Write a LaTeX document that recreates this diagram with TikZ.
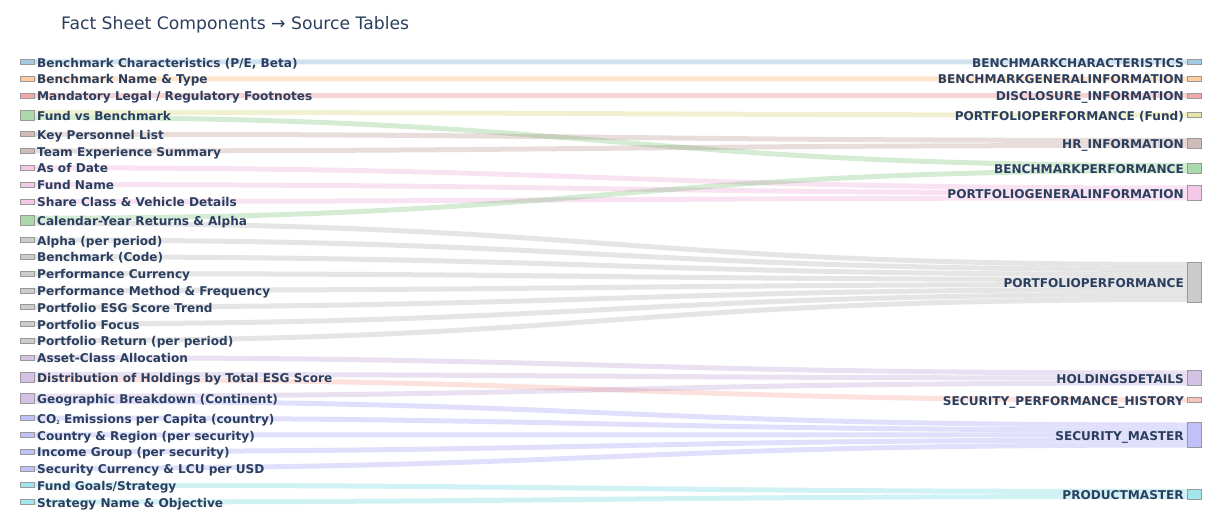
\documentclass[tikz,border=0pt]{standalone}
\usepackage{fontspec}
\setmainfont{DejaVu Sans}
\usepackage{tikz}
\usetikzlibrary{positioning,backgrounds}
\definecolor{ink}{HTML}{2A3F5F}
\definecolor{cblue}{HTML}{1F77B4}
\definecolor{corange}{HTML}{FF7F0E}
\definecolor{cred}{HTML}{D62728}
\definecolor{colive}{HTML}{BCBD22}
\definecolor{cbrown}{HTML}{8C564B}
\definecolor{cgreen}{HTML}{2CA02C}
\definecolor{cpink}{HTML}{E377C2}
\definecolor{cgrey}{HTML}{7F7F7F}
\definecolor{cpurple}{HTML}{9467BD}
\definecolor{ctomato}{HTML}{F26A50}
\definecolor{cindigo}{HTML}{6464F0}
\definecolor{ccyan}{HTML}{17BECF}
% ribbon: colour, source, source slot, target, target slot
\newcommand{\ribbon}[5]{%
  \path (#2.north east) ++(0,-#3*5) coordinate (ra) ++(0,-5) coordinate (rb)
        (#4.north west) ++(0,-#5*5) coordinate (rc) ++(0,-5) coordinate (rd);
  \fill[flow,#1] (ra) .. controls (mid |- ra) and (mid |- rc) .. (rc) -- (rd)
    .. controls (mid |- rd) and (mid |- rb) .. (rb) -- cycle;}

\begin{document}
\begin{tikzpicture}[x=1pt,y=1pt,node distance=11.8pt,
  bar/.style={rectangle,minimum width=14pt,minimum height=5pt,inner sep=0pt,outer sep=0pt,draw=black!40,line width=0.5pt},
  lab/.style={font=\bfseries\fontsize{12.1}{14}\selectfont,text=ink,inner sep=0pt,text height=8.8pt,text depth=0pt,yshift=-0.8pt},
  flow/.style={fill opacity=0.2}]
\useasboundingbox (0,0) rectangle (1220,525);
\node[anchor=base west,font=\fontsize{17.2}{20}\selectfont,text=ink,inner sep=0pt] (title) at (61,495) {Fact Sheet Components → Source Tables};
\coordinate (mid) at (610.5,0);

% fact sheet components
\node[bar,fill=cblue!40] (lA) at (27,463) {}; \node[lab,right=3pt of lA] (tA) {Benchmark Characteristics (P/E, Beta)};
\node[bar,fill=corange!40,below=of lA] (lB) {}; \node[lab,right=3pt of lB] (tB) {Benchmark Name \& Type};
\node[bar,fill=cred!40,below=of lB] (lC) {}; \node[lab,right=3pt of lC] (tC) {Mandatory Legal / Regulatory Footnotes};
\node[bar,fill=cgreen!40,minimum height=10pt,below=of lC] (lD) {}; \node[lab,right=3pt of lD] (tD) {Fund vs Benchmark};
\node[bar,fill=cbrown!40,below=of lD] (lE) {}; \node[lab,right=3pt of lE] (tE) {Key Personnel List};
\node[bar,fill=cbrown!40,below=of lE] (lF) {}; \node[lab,right=3pt of lF] (tF) {Team Experience Summary};
\node[bar,fill=cpink!40,below=of lF] (lG) {}; \node[lab,right=3pt of lG] (tG) {As of Date};
\node[bar,fill=cpink!40,below=of lG] (lH) {}; \node[lab,right=3pt of lH] (tH) {Fund Name};
\node[bar,fill=cpink!40,below=of lH] (lI) {}; \node[lab,right=3pt of lI] (tI) {Share Class \& Vehicle Details};
\node[bar,fill=cgreen!40,minimum height=10pt,below=of lI] (lJ) {}; \node[lab,right=3pt of lJ] (tJ) {Calendar-Year Returns \& Alpha};
\node[bar,fill=cgrey!40,below=of lJ] (lK) {}; \node[lab,right=3pt of lK] (tK) {Alpha (per period)};
\node[bar,fill=cgrey!40,below=of lK] (lL) {}; \node[lab,right=3pt of lL] (tL) {Benchmark (Code)};
\node[bar,fill=cgrey!40,below=of lL] (lM) {}; \node[lab,right=3pt of lM] (tM) {Performance Currency};
\node[bar,fill=cgrey!40,below=of lM] (lN) {}; \node[lab,right=3pt of lN] (tN) {Performance Method \& Frequency};
\node[bar,fill=cgrey!40,below=of lN] (lO) {}; \node[lab,right=3pt of lO] (tO) {Portfolio ESG Score Trend};
\node[bar,fill=cgrey!40,below=of lO] (lP) {}; \node[lab,right=3pt of lP] (tP) {Portfolio Focus};
\node[bar,fill=cgrey!40,below=of lP] (lQ) {}; \node[lab,right=3pt of lQ] (tQ) {Portfolio Return (per period)};
\node[bar,fill=cpurple!40,below=of lQ] (lR) {}; \node[lab,right=3pt of lR] (tR) {Asset-Class Allocation};
\node[bar,fill=cpurple!40,minimum height=10pt,below=of lR] (lS) {}; \node[lab,right=3pt of lS] (tS) {Distribution of Holdings by Total ESG Score};
\node[bar,fill=cpurple!40,minimum height=10pt,below=of lS] (lT) {}; \node[lab,right=3pt of lT] (tT) {Geographic Breakdown (Continent)};
\node[bar,fill=cindigo!40,below=of lT] (lU) {}; \node[lab,right=3pt of lU] (tU) {CO\raisebox{-1.5pt}{\fontsize{5}{5}\selectfont 2} Emissions per Capita (country)};
\node[bar,fill=cindigo!40,below=of lU] (lV) {}; \node[lab,right=3pt of lV] (tV) {Country \& Region (per security)};
\node[bar,fill=cindigo!40,below=of lV] (lW) {}; \node[lab,right=3pt of lW] (tW) {Income Group (per security)};
\node[bar,fill=cindigo!40,below=of lW] (lX) {}; \node[lab,right=3pt of lX] (tX) {Security Currency \& LCU per USD};
\node[bar,fill=ccyan!40,below=of lX] (lY) {}; \node[lab,right=3pt of lY] (tY) {Fund Goals/Strategy};
\node[bar,fill=ccyan!40,below=of lY] (lZ) {}; \node[lab,right=3pt of lZ] (tZ) {Strategy Name \& Objective};

% source tables
\node[bar,fill=cblue!40] (rA) at (1194,463) {}; \node[lab,left=3pt of rA] (sA) {BENCHMARKCHARACTERISTICS};
\node[bar,fill=corange!40] (rB) at (1194,446.2) {}; \node[lab,left=3pt of rB] (sB) {BENCHMARKGENERALINFORMATION};
\node[bar,fill=cred!40] (rC) at (1194,429.4) {}; \node[lab,left=3pt of rC] (sC) {DISCLOSURE\_INFORMATION};
\node[bar,fill=colive!40] (rD) at (1194,410) {}; \node[lab,left=3pt of rD] (sD) {PORTFOLIOPERFORMANCE (Fund)};
\node[bar,fill=cbrown!40,minimum height=10pt] (rE) at (1194,382) {}; \node[lab,left=3pt of rE] (sE) {HR\_INFORMATION};
\node[bar,fill=cgreen!40,minimum height=10pt] (rF) at (1194,357) {}; \node[lab,left=3pt of rF] (sF) {BENCHMARKPERFORMANCE};
\node[bar,fill=cpink!40,minimum height=15pt] (rG) at (1194,332) {}; \node[lab,left=3pt of rG] (sG) {PORTFOLIOGENERALINFORMATION};
\node[bar,fill=cgrey!40,minimum height=40pt] (rH) at (1194,243) {}; \node[lab,left=3pt of rH] (sH) {PORTFOLIOPERFORMANCE};
\node[bar,fill=cpurple!40,minimum height=15pt] (rI) at (1194,147) {}; \node[lab,left=3pt of rI] (sI) {HOLDINGSDETAILS};
\node[bar,fill=ctomato!40] (rJ) at (1194,125) {}; \node[lab,left=3pt of rJ] (sJ) {SECURITY\_PERFORMANCE\_HISTORY};
\node[bar,fill=cindigo!40,minimum height=25pt] (rK) at (1194,90) {}; \node[lab,left=3pt of rK] (sK) {SECURITY\_MASTER};
\node[bar,fill=ccyan!40,minimum height=10pt] (rL) at (1194,31) {}; \node[lab,left=3pt of rL] (sL) {PRODUCTMASTER};

\begin{pgfonlayer}{background}
\fill[white] (0,0) rectangle (1220,525);
\ribbon{cblue}{lA}{0}{rA}{0}
\ribbon{corange}{lB}{0}{rB}{0}
\ribbon{cred}{lC}{0}{rC}{0}
\ribbon{colive}{lD}{0}{rD}{0}
\ribbon{cgreen}{lD}{1}{rF}{0}
\ribbon{cbrown}{lE}{0}{rE}{0}
\ribbon{cbrown}{lF}{0}{rE}{1}
\ribbon{cpink}{lG}{0}{rG}{0}
\ribbon{cpink}{lH}{0}{rG}{1}
\ribbon{cpink}{lI}{0}{rG}{2}
\ribbon{cgreen}{lJ}{0}{rF}{1}
\ribbon{cgrey}{lJ}{1}{rH}{0}
\foreach \src [count=\k] in {lK,lL,lM,lN,lO,lP,lQ} {\ribbon{cgrey}{\src}{0}{rH}{\k}}
\ribbon{cpurple}{lR}{0}{rI}{0}
\ribbon{cpurple}{lS}{0}{rI}{1}
\ribbon{ctomato}{lS}{1}{rJ}{0}
\ribbon{cpurple}{lT}{0}{rI}{2}
\ribbon{cindigo}{lT}{1}{rK}{0}
\foreach \src [count=\k] in {lU,lV,lW,lX} {\ribbon{cindigo}{\src}{0}{rK}{\k}}
\ribbon{ccyan}{lY}{0}{rL}{0}
\ribbon{ccyan}{lZ}{0}{rL}{1}
\end{pgfonlayer}
\end{tikzpicture}
\end{document}
